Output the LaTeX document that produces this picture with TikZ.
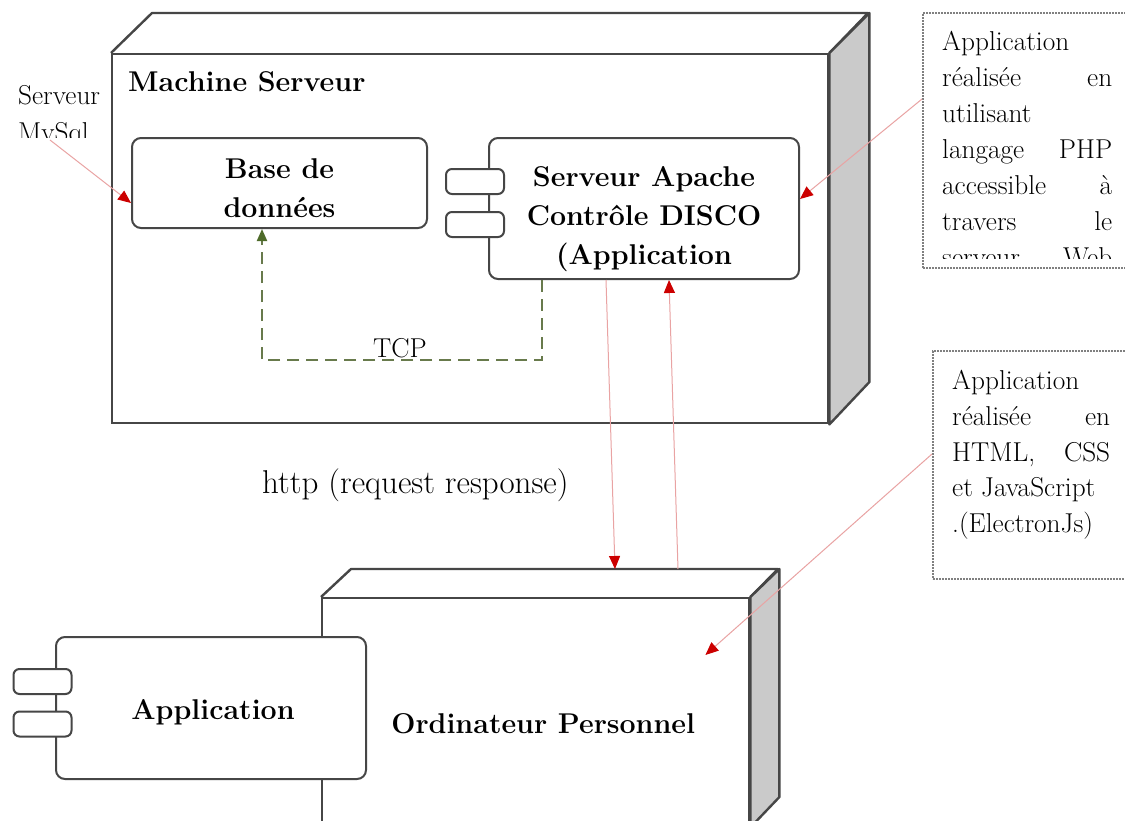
\documentclass[tikz,border=0pt]{standalone}
\usepackage{fontspec}
\usetikzlibrary{arrows.meta,calc}

\definecolor{edge}{HTML}{464646}
\definecolor{sidegray}{HTML}{CACACA}
\definecolor{linkred}{HTML}{E9A3A3}
\definecolor{tipred}{HTML}{CC0000}
\definecolor{tcpgreen}{HTML}{687A4C}
\definecolor{tipgreen}{HTML}{4E6B2A}
\definecolor{notegray}{HTML}{808080}

\tikzset{
  face/.style={draw=edge, line width=2.4pt, fill=white, inner sep=0pt, anchor=north west},
  sideface/.style={draw=edge, line width=2.4pt, fill=sidegray, line join=round},
  topface/.style={draw=edge, line width=2.4pt, line join=round},
  comp/.style={draw=edge, line width=2pt, fill=white, rounded corners=9pt, inner sep=0pt, anchor=north west},
  tab/.style={draw=edge, line width=2pt, fill=white, rounded corners=6pt, minimum width=58pt, minimum height=25pt, inner sep=0pt},
  title/.style={font=\fontsize{28.6}{39}\selectfont\bfseries, align=center, inner sep=0pt},
  plain/.style={font=\fontsize{27.3}{37}\selectfont, inner sep=0pt},
  note/.style={draw=notegray, line width=2pt, densely dotted, anchor=north west, inner sep=0pt},
  link/.style={draw=linkred, line width=1pt, -{Triangle[length=13pt,width=11pt,color=tipred]}},
  tcp/.style={draw=tcpgreen, line width=2pt, dash pattern=on 12pt off 7pt, -{Triangle[length=12pt,width=10pt,color=tipgreen]}},
}

\begin{document}
\begin{tikzpicture}[x=1pt,y=-1pt]
\clip (0,0) rectangle (1125,820);
\fill[white] (0,0) rectangle (1125,820);

% server machine (3D node)
\node[face, minimum width=716pt, minimum height=369pt] (srv) at (111,53) {};
\draw[topface] (srv.north west) -- ++(41,-40) -- ++(716,0) -- (srv.north east);
\filldraw[sideface] (srv.north east) -- ++(40,-40) -- ++(0,369) -- (srv.south east) -- cycle;
\node[title, anchor=base west] (srvlabel) at ($(srv.north west)+(17,38)$) {Machine Serveur};

% database
\node[comp, minimum width=295pt, minimum height=90pt] (db) at (131,137) {};
\node[title] (dblabel) at ($(db.center)+(0,5.5)$) {Base de\\données};

% apache component
\node[comp, minimum width=310pt, minimum height=141pt] (apache) at (488,137) {};
\node[tab] (apt1) at ($(apache.west)+(-13,-27)$) {};
\node[tab] (apt2) at ($(apache.west)+(-13,16)$) {};
\node[title] (apachelabel) at ($(apache.center)+(0,10.4)$) {Serveur Apache\\Contrôle DISCO\\(Application};

% MySQL label
\begin{scope}
  \clip (0,70) rectangle (110,137);
  \node[plain, anchor=north west, align=left] (mysql) at (18,84.8) {Serveur\\MySql};
\end{scope}
\coordinate (mysqlsrc) at (50,140);

% note on the server application
\node[note, minimum width=220pt, minimum height=255pt] (note1) at (922,12) {};
\begin{scope}
  \clip (922,12) rectangle (1125,258);
  \node[plain, anchor=north west, align=left, font=\fontsize{27.3}{36}\selectfont] (note1text) at (942,31)
    {Application\\
     \hbox to 170pt{réalisée\hfill en}\\
     utilisant\\
     \hbox to 170pt{langage\hfill PHP}\\
     \hbox to 170pt{accessible\hfill à}\\
     \hbox to 170pt{travers\hfill le}\\
     \hbox to 170pt{serveur\hfill Web}};
\end{scope}

% note on the desktop application
\node[note, minimum width=210pt, minimum height=228pt] (note2) at (932,350) {};
\node[plain, anchor=north west, align=left, font=\fontsize{27.3}{35.75}\selectfont] (note2text) at (952,370)
  {Application\\
   \hbox to 158pt{réalisée\hfill en}\\
   \hbox to 158pt{HTML,\hfill CSS}\\
   et JavaScript\\
   .(ElectronJs)};

% personal computer (3D node)
\node[face, minimum width=427pt, minimum height=228pt] (pc) at (321,597) {};
\draw[topface] (pc.north west) -- ++(30,-28) -- ++(427,0) -- (pc.north east);
\filldraw[sideface] (pc.north east) -- ++(29,-28) -- ++(0,228) -- (pc.south east) -- cycle;
\node[title] (pclabel) at ($(pc.center)+(7.5,11.5)$) {Ordinateur Personnel};
\coordinate (pcin) at ($(pc.north east)+(-45,58)$);

% desktop application component
\node[comp, minimum width=310pt, minimum height=142pt] (app) at (55,636) {};
\node[tab] (appt1) at ($(app.west)+(-12.5,-26.5)$) {};
\node[tab] (appt2) at ($(app.west)+(-12.5,16)$) {};
\node[title] (applabel) at ($(app.center)+(2,4)$) {Application};

% connectors
\draw[tcp] ([xshift=-102pt]apache.south) -- ++(0,80) -| ([xshift=-17.5pt]db.south);
\node[plain, anchor=base west] (tcplabel) at (373,357) {TCP};

\draw[link] (mysqlsrc) -- ([yshift=-20pt]db.west);
\draw[link] ([yshift=41.5pt]note1.west) -- ([yshift=9.5pt]apache.east);
\draw[link] ([yshift=11pt]note2.west) -- (pcin);
\draw[link] ([xshift=-38pt]apache.south) -- ($(pc.north west)+(294,-28)$);
\draw[link] ($(pc.north west)+(357,-28)$) -- ([xshift=25pt]apache.south);

\node[font=\fontsize{33}{40}\selectfont, inner sep=0pt, anchor=base west] (http) at (262,493) {http (request response)};
\end{tikzpicture}
\end{document}
